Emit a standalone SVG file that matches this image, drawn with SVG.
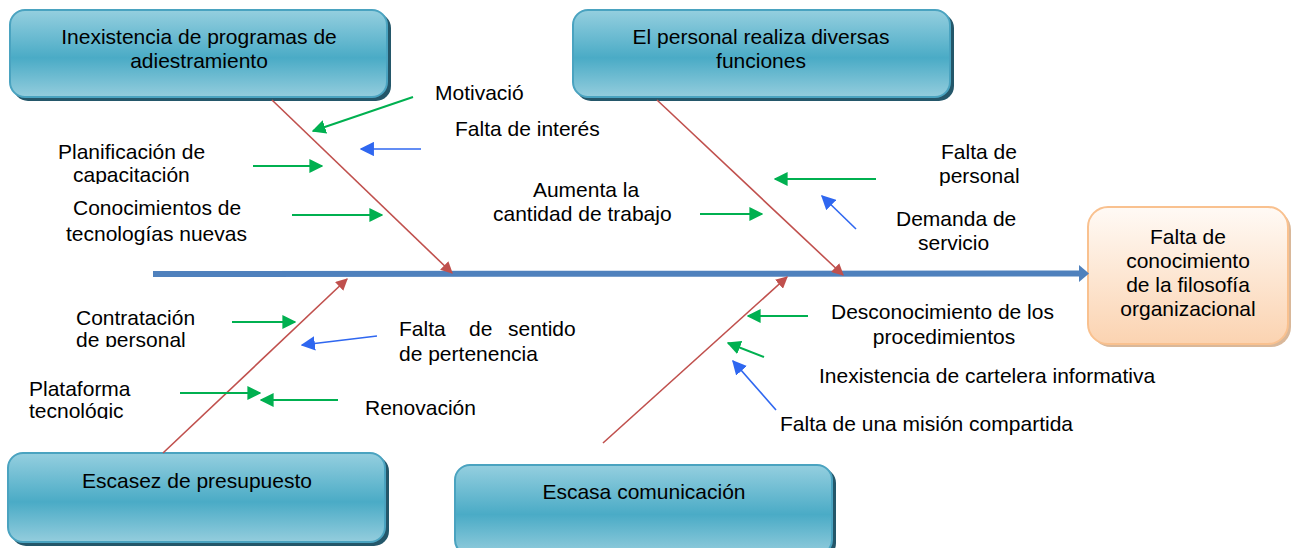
<svg xmlns="http://www.w3.org/2000/svg" width="1293" height="548" viewBox="0 0 1293 548">
<style>
text{font-family:"Liberation Sans",Arial,sans-serif;font-size:21px;fill:#000}
.c{text-anchor:middle}
.bone{stroke:#c0504d;stroke-width:1.6;fill:none;marker-end:url(#mr)}
.g{stroke:#00b050;stroke-width:2;fill:none;marker-end:url(#mg)}
.b{stroke:#2f67f0;stroke-width:1.6;fill:none;marker-end:url(#mb)}
.box{fill:url(#gb);stroke:#4aa3c0;stroke-width:2}
.sh{fill:#24576a}
</style>
<defs>
<linearGradient id="gb" x1="0" y1="0" x2="0" y2="1">
<stop offset="0" stop-color="#95cfdf"/>
<stop offset="0.55" stop-color="#4aabc6"/>
<stop offset="1" stop-color="#94cddd"/>
</linearGradient>
<linearGradient id="go" x1="0" y1="0" x2="0" y2="1">
<stop offset="0" stop-color="#fffaf5"/>
<stop offset="1" stop-color="#fbd3b1"/>
</linearGradient>
<marker id="mr" viewBox="0 0 10 10" refX="9" refY="5" markerWidth="7.5" markerHeight="7.5" orient="auto" markerUnits="strokeWidth"><path d="M0,0L10,5L0,10z" fill="#c0504d"/></marker>
<marker id="mg" viewBox="0 0 10 10" refX="9" refY="5" markerWidth="7" markerHeight="7" orient="auto" markerUnits="strokeWidth"><path d="M0,0L10,5L0,10z" fill="#00b050"/></marker>
<marker id="mb" viewBox="0 0 10 10" refX="9" refY="5" markerWidth="9" markerHeight="9" orient="auto" markerUnits="strokeWidth"><path d="M0,0L10,5L0,10z" fill="#2f67f0"/></marker>
<clipPath id="k1"><rect x="40" y="140" width="200" height="44"/></clipPath>
<clipPath id="k2"><rect x="900" y="140" width="200" height="46"/></clipPath>
<clipPath id="k3"><rect x="60" y="300" width="200" height="47"/></clipPath>
<clipPath id="k4"><rect x="20" y="370" width="200" height="49"/></clipPath>
</defs>

<g id="box-adiestramiento">
<rect class="sh" x="13" y="13" width="378" height="88" rx="15"/>
<rect class="box" x="10" y="10" width="377" height="87" rx="15"/>
<text class="c" x="199" y="44">Inexistencia de programas de</text>
<text class="c" x="199" y="68">adiestramiento</text>
</g>

<g id="box-funciones">
<rect class="sh" x="576" y="13" width="378" height="88" rx="15"/>
<rect class="box" x="573" y="10" width="377" height="87" rx="15"/>
<text class="c" x="761" y="44">El personal realiza diversas</text>
<text class="c" x="761" y="68">funciones</text>
</g>

<g id="box-presupuesto">
<rect class="sh" x="11" y="456" width="378" height="90" rx="15"/>
<rect class="box" x="8" y="453" width="377" height="89" rx="15"/>
<text class="c" x="197" y="488">Escasez de presupuesto</text>
</g>

<g id="box-comunicacion">
<rect class="sh" x="458" y="468" width="378" height="90" rx="15"/>
<rect class="box" x="455" y="465" width="377" height="90" rx="15"/>
<text class="c" x="644" y="499">Escasa comunicación</text>
</g>

<g id="box-efecto">
<rect x="1091" y="210" width="200" height="137" rx="20" fill="#d9b89a"/>
<rect x="1088" y="207" width="200" height="137" rx="20" fill="url(#go)" stroke="#f9c18f" stroke-width="2"/>
<text class="c" x="1188" y="244">Falta de</text>
<text class="c" x="1188" y="268">conocimiento</text>
<text class="c" x="1188" y="292">de la filosofía</text>
<text class="c" x="1188" y="316">organizacional</text>
</g>

<g id="connectors">
<line x1="153" y1="274" x2="1081" y2="273.5" stroke="#4f81bd" stroke-width="6"/>
<polygon points="1079,265 1089,273.5 1079,282" fill="#4f81bd"/>
<line class="bone" x1="272" y1="100" x2="452" y2="273"/>
<line class="bone" x1="657" y1="100" x2="843" y2="275"/>
<line class="bone" x1="163" y1="453" x2="347" y2="279"/>
<line class="bone" x1="603" y1="443" x2="787" y2="277"/>
<line class="g" x1="413" y1="97" x2="313" y2="131"/>
<line class="b" x1="421" y1="149" x2="361" y2="149"/>
<line class="g" x1="253" y1="166" x2="322" y2="166"/>
<line class="g" x1="292" y1="215" x2="382" y2="215"/>
<line class="g" x1="700" y1="214" x2="762" y2="214"/>
<line class="g" x1="876" y1="179" x2="775" y2="179"/>
<line class="b" x1="856" y1="229" x2="822" y2="196"/>
<line class="g" x1="232" y1="322" x2="295" y2="322"/>
<line class="b" x1="377" y1="336" x2="302" y2="345"/>
<line class="g" x1="180" y1="393" x2="260" y2="393"/>
<line class="g" x1="338" y1="400" x2="261" y2="400"/>
<line class="g" x1="808" y1="316" x2="748" y2="316"/>
<line class="g" x1="764" y1="357" x2="728" y2="343"/>
<line class="b" x1="776" y1="410" x2="733" y2="361"/>
</g>

<g id="labels">
<text x="435" y="100">Motivació</text>
<text x="455" y="136">Falta de interés</text>
<text x="58" y="159">Planificación de</text>
<text x="73" y="182" clip-path="url(#k1)">capacitación</text>
<text x="73" y="215">Conocimientos de</text>
<text x="66" y="241">tecnologías nuevas</text>
<text class="c" x="586" y="197">Aumenta la</text>
<text x="493" y="221">cantidad de trabajo</text>
<text x="941" y="159">Falta de</text>
<text x="939" y="183" clip-path="url(#k2)">personal</text>
<text x="896" y="226">Demanda de</text>
<text x="918" y="250">servicio</text>
<text x="76" y="325">Contratación</text>
<text x="76" y="347" clip-path="url(#k3)">de personal</text>
<text y="336"><tspan x="399">Falta</tspan><tspan x="469">de</tspan><tspan x="508">sentido</tspan></text>
<text x="399" y="361">de pertenencia</text>
<text x="29" y="396">Plataforma</text>
<text x="29" y="418" clip-path="url(#k4)">tecnológic</text>
<text x="365" y="415">Renovación</text>
<text x="831" y="319">Desconocimiento de los</text>
<text class="c" x="944" y="344">procedimientos</text>
<text x="819" y="383">Inexistencia de cartelera informativa</text>
<text x="780" y="431">Falta de una misión compartida</text>
</g>
</svg>
